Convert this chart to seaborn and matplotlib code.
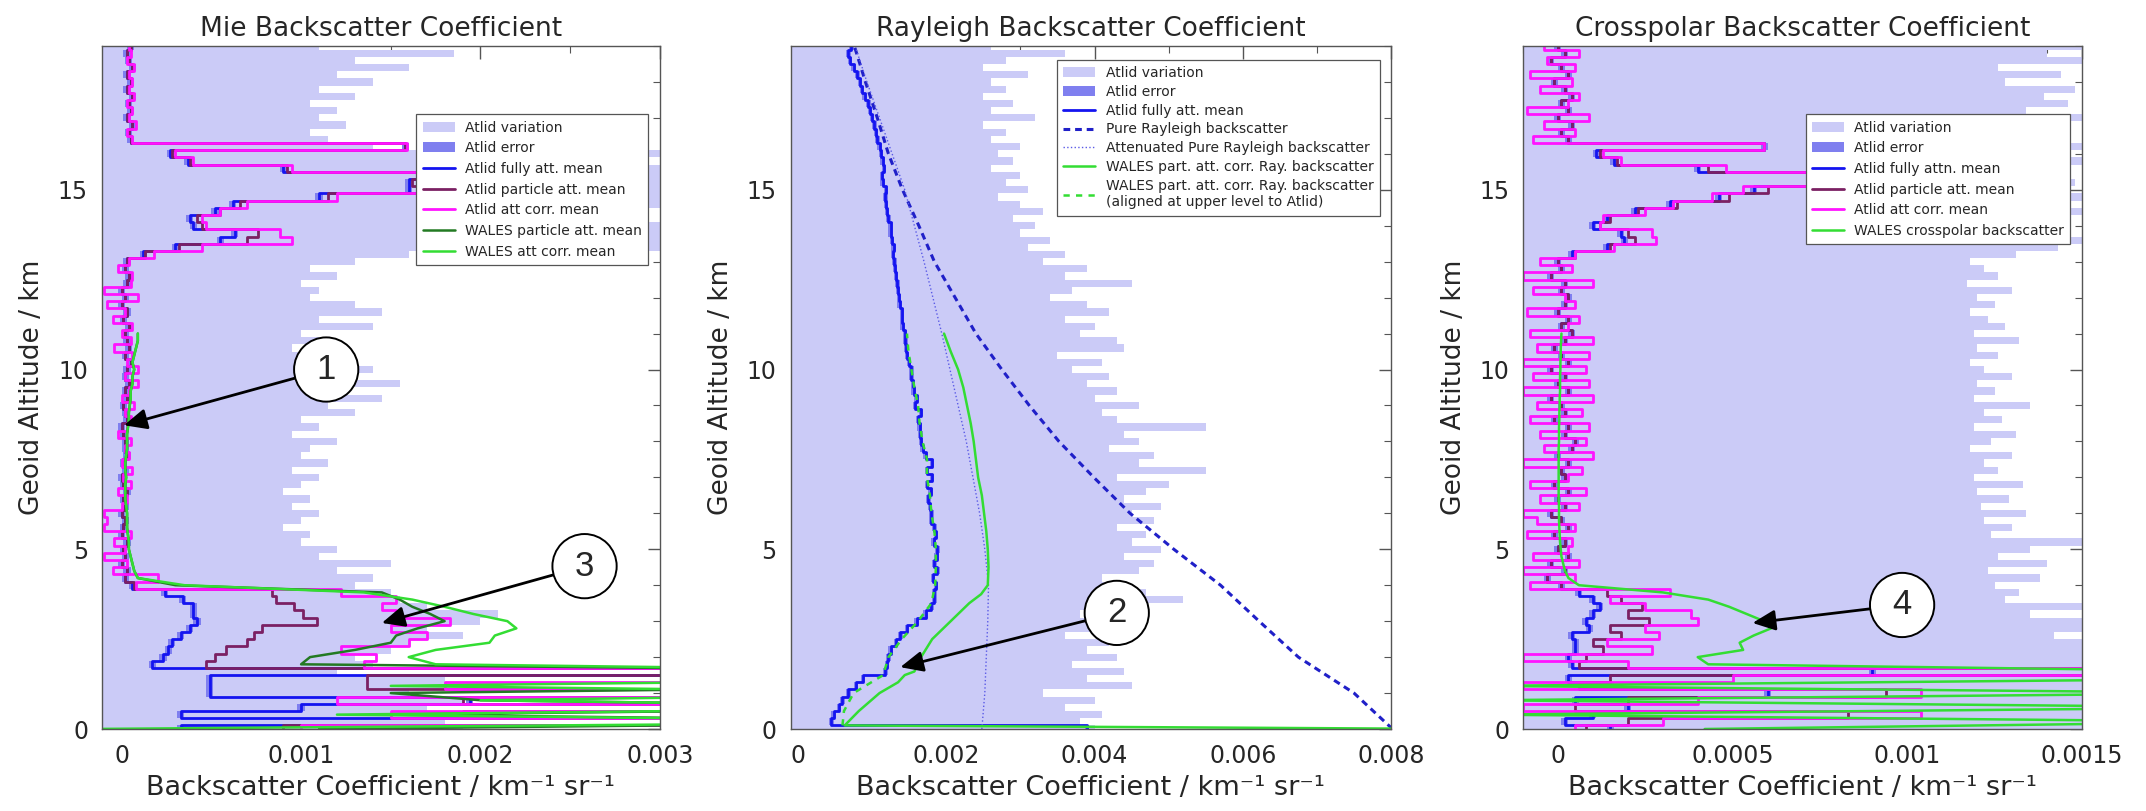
import matplotlib
matplotlib.use("Agg")
import matplotlib.pyplot as plt
from matplotlib.ticker import MultipleLocator
import numpy as np
import seaborn as sns


# altitude bins (km), 0.2 km apart, 0 .. 19
ALT = np.round(np.arange(96) * 0.2, 1)

# ---------------- Mie panel, values in 1e-3 km-1 sr-1 ----------------
MIE_VAR = [
    1.9, 1.8, 2.0, 1.7, 1.9, 1.6, 2.1, 1.8, 1.2, 1.4,
    1.3, 1.5, 1.6, 1.9, 1.7, 2.0, 2.1, 1.7, 1.55, 1.5,
    1.3, 1.4, 1.2, 1.5, 1.1, 1.2, 1.0, 1.05, 0.9, 1.0,
    1.1, 0.95, 1.05, 0.9, 1.0, 1.1, 0.95, 1.15, 1.0, 1.05,
    1.2, 0.95, 1.1, 1.0, 1.3, 1.15, 1.45, 1.2, 1.55, 1.1,
    1.4, 1.05, 1.2, 0.95, 1.1, 1.0, 1.4, 1.1, 1.45, 1.3,
    1.05, 1.1, 1.0, 1.2, 1.05, 1.3, 1.6, 3.5, 3.5, 3.5,
    3.5, 2.0, 2.2, 3.5, 3.5, 3.5, 3.5, 3.5, 3.5, 1.9,
    3.5, 1.4, 1.15, 1.05, 1.25, 1.1, 1.2, 1.05, 1.3, 1.1,
    1.4, 1.2, 1.6, 1.3, 1.85, 1.1,
]
MIE_FULLY = [
    0.33, 5.0, 0.33, 1.0, 1.94, 0.49, 0.49, 0.49, 5.0, 0.17,
    0.23, 0.26, 0.28, 0.33, 0.38, 0.42, 0.40, 0.40, 0.34, 0.24,
    0.06, 0.02, 0.03, 0.0, 0.02, 0.01, 0.03, 0.0, 0.01, 0.02,
    0.0, 0.02, 0.01, 0.03, 0.01, 0.0, 0.02, 0.01, 0.03, 0.02,
    0.02, 0.01, 0.0, 0.03, 0.02, 0.01, 0.03, 0.02, 0.04, 0.02,
    0.03, 0.05, 0.02, 0.04, 0.03, 0.02, 0.04, 0.01, 0.03, 0.0,
    0.02, 0.0, 0.03, 0.04, 0.02, 0.03, 0.12, 0.30, 0.55, 0.63,
    0.40, 0.38, 0.52, 0.62, 1.10, 1.60, 1.60, 1.75, 0.90, 0.37,
    0.27, 1.58, 0.05, 0.04, 0.06, 0.03, 0.05, 0.04, 0.06, 0.03,
    0.05, 0.03, 0.06, 0.04, 0.03, 0.05,
]
MIE_PART = [
    0.9, 5.0, 1.9, 5.0, 1.9, 5.0, 1.37, 1.37, 5.0, 0.47,
    0.52, 0.58, 0.70, 0.74, 0.78, 1.09, 1.01, 0.96, 0.86, 0.84,
    0.07, 0.02, 0.03, 0.0, 0.02, 0.01, 0.03, 0.0, 0.01, 0.02,
    0.0, 0.02, 0.01, 0.03, 0.01, 0.0, 0.02, 0.01, 0.03, 0.02,
    0.02, 0.01, 0.0, 0.03, 0.02, 0.01, 0.03, 0.02, 0.04, 0.02,
    0.03, 0.05, 0.02, 0.04, 0.03, 0.02, 0.04, 0.01, 0.03, 0.0,
    0.02, 0.0, 0.03, 0.04, 0.02, 0.03, 0.13, 0.32, 0.70, 0.76,
    0.45, 0.42, 0.55, 0.66, 1.15, 1.65, 1.62, 1.75, 0.92, 0.38,
    0.28, 1.58, 0.05, 0.04, 0.06, 0.03, 0.05, 0.04, 0.06, 0.03,
    0.05, 0.03, 0.06, 0.04, 0.03, 0.05,
]
MIE_CORR = [
    1.0, 5.0, 1.5, 5.0, 1.2, 5.0, 1.8, 5.0, 5.0, 1.35,
    1.42, 1.22, 1.60, 1.70, 1.50, 1.83, 1.53, 1.45, 1.53, 1.22,
    0.08, 0.20, -0.05, 0.03, -0.10, 0.02, -0.04, 0.05, -0.10, -0.08,
    -0.10, 0.0, 0.03, -0.02, 0.05, 0.01, 0.06, 0.0, 0.04, 0.02,
    0.05, -0.02, 0.03, 0.05, 0.02, 0.07, 0.0, 0.04, 0.09, 0.02,
    0.09, 0.03, 0.06, -0.04, 0.05, 0.0, 0.06, -0.05, 0.02, -0.08,
    0.09, -0.10, 0.05, 0.06, -0.02, 0.04, 0.18, 0.45, 0.95, 0.88,
    0.47, 0.45, 0.55, 0.70, 1.20, 1.72, 1.65, 1.72, 0.95, 0.40,
    0.30, 1.59, 0.06, 0.03, 0.08, 0.04, 0.06, 0.03, 0.07, 0.04,
    0.06, 0.04, 0.07, 0.03, 0.05, 0.04,
]
# WALES profiles stop at 11 km
MIE_WALES_PART = [
    1.1, 5.0, 1.5, 5.0, 2.0, 1.5, 5.0, 5.0, 5.0, 1.0,
    1.05, 1.30, 1.50, 1.53, 1.65, 1.80, 1.72, 1.62, 1.55, 1.45,
    0.30, 0.09, 0.07, 0.06, 0.05, 0.04, 0.04, 0.035, 0.03, 0.03,
    0.03, 0.025, 0.02, 0.02, 0.02, 0.025, 0.02, 0.02, 0.025, 0.03,
    0.03, 0.03, 0.035, 0.04, 0.04, 0.045, 0.05, 0.05, 0.06, 0.06,
    0.07, 0.06, 0.07, 0.08, 0.09, 0.09,
]
MIE_WALES_CORR = [
    -0.2, 5.0, 1.2, 5.0, 2.0, 5.0, 1.5, 5.0, 5.0, 1.75,
    1.60, 1.75, 2.05, 2.08, 2.20, 2.15, 1.96, 1.80, 1.62, 1.35,
    0.35, 0.09, 0.07, 0.06, 0.05, 0.04, 0.04, 0.035, 0.03, 0.03,
    0.03, 0.025, 0.02, 0.02, 0.02, 0.025, 0.02, 0.02, 0.025, 0.03,
    0.03, 0.03, 0.035, 0.04, 0.04, 0.045, 0.05, 0.05, 0.06, 0.06,
    0.07, 0.06, 0.07, 0.08, 0.09, 0.09,
]
MIE_ERR = 0.02

# ---------------- Rayleigh panel, values in 1e-3 ----------------
RAY_VAR = [
    4.0, 3.8, 4.1, 3.6, 4.0, 3.3, 4.5, 3.9, 4.4, 3.7,
    4.3, 3.9, 4.2, 3.6, 4.6, 4.3, 3.8, 4.2, 5.2, 4.7,
    4.4, 4.1, 4.6, 4.8, 4.4, 4.9, 4.5, 4.7, 4.3, 4.8,
    4.5, 4.9, 4.4, 4.7, 5.0, 4.3, 5.5, 4.6, 4.8, 4.2,
    4.6, 4.4, 5.5, 4.3, 4.1, 4.6, 4.0, 4.3, 3.9, 4.2,
    3.7, 4.1, 3.5, 4.4, 4.3, 3.8, 4.0, 3.6, 4.2, 3.9,
    3.4, 3.7, 4.5, 3.6, 3.9, 3.3, 3.6, 3.1, 3.4, 3.0,
    3.2, 2.9, 3.3, 3.0, 2.7, 3.1, 2.8, 3.0, 2.6, 2.9,
    2.7, 3.0, 2.6, 2.8, 2.5, 3.2, 2.6, 2.9, 2.5, 2.8,
    2.6, 3.1, 2.5, 2.8, 3.6, 2.6,
]
RAY_FULLY = [
    3.9, 0.45, 0.48, 0.55, 0.60, 0.68, 0.78, 0.88, 1.18, 1.20,
    1.22, 1.25, 1.32, 1.38, 1.47, 1.60, 1.72, 1.80, 1.84, 1.84,
    1.86, 1.82, 1.88, 1.84, 1.87, 1.88, 1.83, 1.86, 1.84, 1.80,
    1.80, 1.78, 1.76, 1.79, 1.74, 1.81, 1.74, 1.81, 1.72, 1.68,
    1.66, 1.65, 1.64, 1.62, 1.66, 1.58, 1.60, 1.56, 1.55, 1.53,
    1.53, 1.50, 1.47, 1.46, 1.45, 1.44, 1.41, 1.40, 1.40, 1.37,
    1.36, 1.35, 1.34, 1.32, 1.31, 1.30, 1.28, 1.29, 1.27, 1.25,
    1.25, 1.22, 1.20, 1.19, 1.18, 1.19, 1.14, 1.13, 1.16, 1.14,
    1.12, 1.10, 1.07, 1.05, 1.03, 1.00, 0.97, 0.95, 0.90, 0.86,
    0.84, 0.80, 0.75, 0.70, 0.68, 0.72,
]
RAY_ERR = 0.03
ALT_KM = list(range(20))
RAY_PURE = [8.02, 7.5, 6.75, 6.22, 5.7, 5.07, 4.48, 3.99, 3.52, 3.12,
            2.75, 2.4, 2.12, 1.84, 1.63, 1.41, 1.22, 1.07, 0.91, 0.76]
RAY_ATT = [2.48, 2.52, 2.54, 2.56, 2.57, 2.52, 2.45, 2.36, 2.27, 2.16,
           2.05, 1.94, 1.82, 1.70, 1.57, 1.44, 1.27, 1.10, 0.93, 0.77]
RAY_WALES_ALT = [0.0, 0.1, 0.5, 1.0, 1.3, 1.5, 1.6, 2.0, 2.5, 3.0,
                 3.5, 3.75, 4.0, 4.5, 5.0, 5.5, 6.0, 6.5, 7.0, 7.5,
                 8.0, 8.5, 9.0, 9.5, 10.0, 10.5, 11.0]
RAY_WALES = [9.0, 0.63, 0.82, 1.10, 1.35, 1.44, 1.57, 1.66, 1.81, 2.06,
             2.31, 2.47, 2.56, 2.57, 2.56, 2.54, 2.51, 2.48, 2.43, 2.40,
             2.37, 2.33, 2.28, 2.23, 2.16, 2.06, 1.97]
RAY_ALIGNED_ALT = [0.1, 0.5, 1.0, 1.5, 2.0, 2.5, 3.0, 3.5, 4.0, 4.5,
                   5.0, 5.5, 6.0, 6.5, 7.0, 7.5, 8.0, 8.5, 9.0, 9.5,
                   10.0, 10.5, 11.0]
RAY_ALIGNED = [0.60, 0.62, 0.75, 1.15, 1.22, 1.40, 1.62, 1.80, 1.85, 1.86,
               1.86, 1.84, 1.80, 1.78, 1.74, 1.74, 1.68, 1.64, 1.62, 1.57,
               1.53, 1.49, 1.47]

# ---------------- Crosspolar panel, values in 1e-4 ----------------
XP_VAR = [
    16, 16, 16, 16, 16, 16, 16, 16, 16, 16,
    16, 16, 16, 14.2, 16, 16, 13.5, 16, 12.8, 13.2,
    12.5, 13.8, 12.3, 14.0, 12.6, 13.5, 15.0, 12.4, 13.0, 12.2,
    13.4, 12.1, 12.9, 12.0, 13.3, 11.9, 12.6, 12.2, 13.0, 11.8,
    12.4, 13.1, 11.9, 12.7, 12.2, 13.5, 11.9, 12.5, 12.0, 13.0,
    12.2, 11.8, 12.6, 12.0, 13.2, 11.9, 12.8, 12.3, 11.8, 12.5,
    12.0, 13.0, 11.7, 12.6, 12.2, 11.8, 13.1, 14.3, 15.0, 14.2,
    14.6, 13.8, 15.0, 14.4, 15.2, 14.0, 14.8, 13.6, 14.5, 15.0,
    14.0, 15.0, 14.2, 14.6, 13.8, 15.0, 13.4, 14.6, 13.9, 14.8,
    12.8, 14.4, 12.6, 15.0, 14.0, 16.0,
]
XP_FULLY = [
    1.5, 0.2, 1.0, 2.0, 0.5, 6.0, 1.5, 0.3, 9.0, 0.4,
    0.3, 0.5, 0.5, 0.4, 0.9, 0.8, 1.0, 1.2, 1.0, 0.6,
    0.1, -0.3, 0.2, -0.2, 0.3, 0.0, 0.2, -0.1, 0.3, 0.1,
    -0.2, 0.2, 0.0, 0.3, -0.1, 0.2, 0.1, 0.3, 0.0, 0.4,
    0.5, 0.2, 0.3, -0.1, 0.2, 0.1, -0.2, 0.3, 0.0, 0.2,
    -0.2, 0.3, 0.1, -0.1, 0.2, 0.4, 0.1, 0.3, 0.0, 0.2,
    0.3, 0.1, 0.2, -0.2, 0.1, 0.0, 0.4, 1.4, 1.9, 1.8,
    1.0, 1.4, 2.2, 3.2, 4.6, 5.6, 7.8, 7.5, 4.0, 1.6,
    1.1, 5.9, 0.3, 0.1, 0.4, 0.0, 0.3, 0.1, 0.4, 0.2,
    -0.1, 0.3, 0.1, -0.2, 0.2, 0.0,
]
XP_PART = [
    0.8, 2.0, 8.3, 0.5, 2.0, 9.4, 0.6, 1.5, 16.0, 0.6,
    0.8, 1.3, 1.0, 1.8, 1.5, 2.6, 2.0, 2.4, 1.8, 1.4,
    0.1, -0.3, 0.2, -0.2, 0.3, 0.0, 0.2, -0.1, 0.3, 0.1,
    -0.2, 0.2, 0.0, 0.3, -0.1, 0.2, 0.1, 0.3, 0.0, 0.4,
    0.5, 0.2, 0.3, -0.1, 0.2, 0.1, -0.2, 0.3, 0.0, 0.2,
    -0.2, 0.3, 0.1, -0.1, 0.2, 0.4, 0.1, 0.3, 0.0, 0.2,
    0.3, 0.1, 0.2, -0.2, 0.1, 0.0, 0.5, 1.5, 2.2, 2.0,
    1.2, 1.5, 2.3, 3.4, 4.9, 6.0, 7.6, 7.6, 4.3, 1.7,
    1.2, 5.9, 0.3, 0.1, 0.4, 0.0, 0.3, 0.1, 0.4, 0.2,
    -0.1, 0.3, 0.1, -0.2, 0.2, 0.0,
]
XP_CORR = [
    0.5, 3.0, 10.4, -1.0, 4.0, 10.4, -1.0, 5.0, 16.0, 2.0,
    -1.0, 2.7, 1.4, 2.9, 2.5, 4.0, 3.8, 2.5, 1.5, 3.2,
    -0.8, 0.5, -1.0, 0.6, -0.7, 0.3, 0.4, -0.9, 0.5, -0.6,
    -1.0, 0.6, -0.5, 0.8, -0.8, 0.3, 0.7, -1.0, 1.0, -0.4,
    0.8, -0.5, 0.9, -0.8, 0.7, -0.6, 1.0, -1.0, 0.9, -0.7,
    0.8, -1.0, 0.9, -0.6, 1.0, -0.8, 0.3, 0.6, -0.9, 0.5,
    0.2, -0.7, 1.0, -1.0, 0.4, -0.5, 0.5, 1.6, 2.8, 2.7,
    1.2, 1.3, 2.5, 3.3, 4.4, 5.3, 7.6, 8.0, 4.8, 1.8,
    1.3, 5.9, -0.7, 0.5, -0.4, 0.9, -0.9, 0.3, 0.6, -0.5,
    0.4, -0.8, 0.5, -0.3, 0.6, -0.4,
]
XP_WALES = [
    4.2, 20, -2, 20, -2, 20, -2, 20, 20, 4.3,
    4.0, 5.3, 5.2, 5.6, 6.1, 5.9, 5.4, 4.9, 4.3, 3.0,
    0.6, 0.3, 0.2, 0.15, 0.1, 0.08, 0.06, 0.05, 0.04, 0.03,
    0.03, 0.03, 0.02, 0.02, 0.02, 0.02, 0.02, 0.02, 0.02, 0.02,
    0.03, 0.03, 0.03, 0.04, 0.04, 0.05, 0.05, 0.06, 0.06, 0.06,
    0.07, 0.07, 0.08, 0.08, 0.09, 0.1,
]
XP_ERR = 0.1

Y_TICKS = [0, 5, 10, 15]
MIE_XTICKS = [0, 0.001, 0.002, 0.003]
MIE_XLABELS = ["0", "0.001", "0.002", "0.003"]
RAY_XTICKS = [0, 0.002, 0.004, 0.006, 0.008]
RAY_XLABELS = ["0", "0.002", "0.004", "0.006", "0.008"]
XP_XTICKS = [0, 0.0005, 0.001, 0.0015]
XP_XLABELS = ["0", "0.0005", "0.001", "0.0015"]

# colours
VAR_C = "#cbcbf7"
ERR_C = "#7f7fef"
BLUE = "#1414f0"
PURPLE = "#7b2063"
MAGENTA = "#ff14ff"
DKGREEN = "#237a23"
LTGREEN = "#33dd33"

sns.set_style("white")
plt.rcParams["font.family"] = ["DejaVu Sans"]

fig = plt.figure(figsize=(21.46, 8.11), dpi=100)


def profile(ax, alt, vals, unit, color, lw, stairs=True, **kw):
    x = np.asarray(vals, dtype=float) * unit
    y = np.asarray(alt, dtype=float)
    if stairs:
        x = np.repeat(x, 2)
        y = np.column_stack([y - 0.1, y + 0.1]).ravel()
    sns.lineplot(x=x, y=y, orient="y", sort=False, estimator=None,
                 color=color, linewidth=lw, ax=ax, legend=False, **kw)
    return ax.lines[-1]


def shade(ax, alt, left, right, unit, color):
    return ax.fill_betweenx(alt, np.asarray(left, dtype=float) * unit,
                            np.asarray(right, dtype=float) * unit,
                            step="mid", color=color, lw=0)


def style(ax, title, xlim, ticks, labels, minor):
    ax.set_xlim(*xlim)
    ax.set_ylim(0, 19)
    ax.set_xticks(ticks)
    ax.set_xticklabels(labels)
    ax.set_yticks(Y_TICKS)
    ax.xaxis.set_minor_locator(MultipleLocator(minor))
    ax.yaxis.set_minor_locator(MultipleLocator(1))
    ax.tick_params(which="both", direction="in", top=True, right=True,
                   color="#555555", labelsize=17)
    ax.tick_params(which="major", length=9, width=1)
    ax.tick_params(which="minor", length=5, width=0.8)
    ax.tick_params(axis="y", pad=10)
    ax.tick_params(axis="x", pad=11)
    for s in ax.spines.values():
        s.set_color("#555555")
        s.set_linewidth(1)
    ax.set_title(title, fontsize=19, pad=7)
    ax.set_xlabel("Backscatter Coefficient / km\u207b\u00b9 sr\u207b\u00b9",
                  fontsize=19.5, labelpad=5)
    ax.set_ylabel("Geoid Altitude / km", fontsize=19, labelpad=9)


def bubble(ax, txt, center, tip):
    ax.annotate(txt, xy=tip, xytext=center, fontsize=25, family="Liberation Sans",
                ha="center", va="center", zorder=10,
                bbox=dict(boxstyle="circle,pad=0.45", fc="white", ec="black", lw=1.4),
                arrowprops=dict(arrowstyle="-|>,head_length=0.55,head_width=0.25",
                                color="black", lw=2, shrinkA=0, shrinkB=0))


def legend(ax, handles, labels, anchor, spacing):
    lg = ax.legend(handles, labels, loc="upper right", bbox_to_anchor=anchor,
                   fontsize=10, frameon=True, fancybox=False, framealpha=1,
                   edgecolor="#555555", handlelength=2.3, handletextpad=0.75,
                   labelspacing=spacing, borderpad=0.45, borderaxespad=0)
    lg.get_frame().set_linewidth(0.9)
    lg.set_zorder(8)


RECT_B, RECT_H = 0.1011, 0.8422

# ---------- Mie ----------
ax1 = fig.add_axes([0.0475, RECT_B, 0.260, RECT_H])
u = 1e-3
h = [shade(ax1, ALT, [-1] * len(ALT), MIE_VAR, u, VAR_C)]
h.append(shade(ax1, ALT, np.array(MIE_FULLY) - MIE_ERR, np.array(MIE_FULLY) + MIE_ERR, u, ERR_C))
h.append(profile(ax1, ALT, MIE_FULLY, u, BLUE, 2.0))
h.append(profile(ax1, ALT, MIE_PART, u, PURPLE, 2.0))
h.append(profile(ax1, ALT, MIE_CORR, u, MAGENTA, 2.0))
h.append(profile(ax1, ALT[:len(MIE_WALES_PART)], MIE_WALES_PART, u, DKGREEN, 1.8, stairs=False))
h.append(profile(ax1, ALT[:len(MIE_WALES_CORR)], MIE_WALES_CORR, u, LTGREEN, 1.8, stairs=False))
style(ax1, "Mie Backscatter Coefficient", (-0.00011, 0.003), MIE_XTICKS, MIE_XLABELS, 0.0005)
legend(ax1, h, ["Atlid variation", "Atlid error", "Atlid fully att. mean",
                "Atlid particle att. mean", "Atlid att corr. mean",
                "WALES particle att. mean", "WALES att corr. mean"], (0.979, 0.900), 0.48)
bubble(ax1, "1", (1.14e-3, 10.0), (0.013e-3, 8.45))
bubble(ax1, "3", (2.58e-3, 4.53), (1.45e-3, 2.95))

# ---------- Rayleigh ----------
ax2 = fig.add_axes([0.3684, RECT_B, 0.2798, RECT_H])
h = [shade(ax2, ALT, [-1] * len(ALT), RAY_VAR, u, VAR_C)]
h.append(shade(ax2, ALT, np.array(RAY_FULLY) - RAY_ERR, np.array(RAY_FULLY) + RAY_ERR, u, ERR_C))
h.append(profile(ax2, ALT, RAY_FULLY, u, BLUE, 2.0))
h.append(profile(ax2, ALT_KM, RAY_PURE, u, "#2020c8", 2.2, stairs=False, linestyle=(0, (2.2, 1.6))))
h.append(profile(ax2, ALT_KM, RAY_ATT, u, "#5a5ae6", 1.0, stairs=False, linestyle=":"))
h.append(profile(ax2, RAY_WALES_ALT, RAY_WALES, u, LTGREEN, 1.8, stairs=False))
h.append(profile(ax2, RAY_ALIGNED_ALT, RAY_ALIGNED, u, LTGREEN, 1.8, stairs=False, linestyle=(0, (2.5, 2.5))))
style(ax2, "Rayleigh Backscatter Coefficient", (-0.0001, 0.008), RAY_XTICKS, RAY_XLABELS, 0.001)
legend(ax2, h, ["Atlid variation", "Atlid error", "Atlid fully att. mean",
                "Pure Rayleigh backscatter", "Attenuated Pure Rayleigh backscatter",
                "WALES part. att. corr. Ray. backscatter",
                "WALES part. att. corr. Ray. backscatter\n(aligned at upper level to Atlid)"],
       (0.981, 0.980), 0.35)
bubble(ax2, "2", (4.3e-3, 3.23), (1.38e-3, 1.72))

# ---------- Crosspolar ----------
ax3 = fig.add_axes([0.7097, RECT_B, 0.2605, RECT_H])
u = 1e-4
h = [shade(ax3, ALT, [-10] * len(ALT), XP_VAR, u, VAR_C)]
h.append(shade(ax3, ALT, np.array(XP_FULLY) - XP_ERR, np.array(XP_FULLY) + XP_ERR, u, ERR_C))
h.append(profile(ax3, ALT, XP_FULLY, u, BLUE, 2.0))
h.append(profile(ax3, ALT, XP_PART, u, PURPLE, 2.0))
h.append(profile(ax3, ALT, XP_CORR, u, MAGENTA, 2.0))
h.append(profile(ax3, ALT[:len(XP_WALES)], XP_WALES, u, LTGREEN, 1.8, stairs=False))
style(ax3, "Crosspolar Backscatter Coefficient", (-0.0001, 0.0015), XP_XTICKS, XP_XLABELS, 0.0001)
legend(ax3, h, ["Atlid variation", "Atlid error", "Atlid fully attn. mean",
                "Atlid particle att. mean", "Atlid att corr. mean",
                "WALES crosspolar backscatter"], (0.979, 0.900), 0.48)
bubble(ax3, "4", (9.85e-4, 3.45), (5.57e-4, 2.95))

fig.savefig("out.png", dpi=100)
